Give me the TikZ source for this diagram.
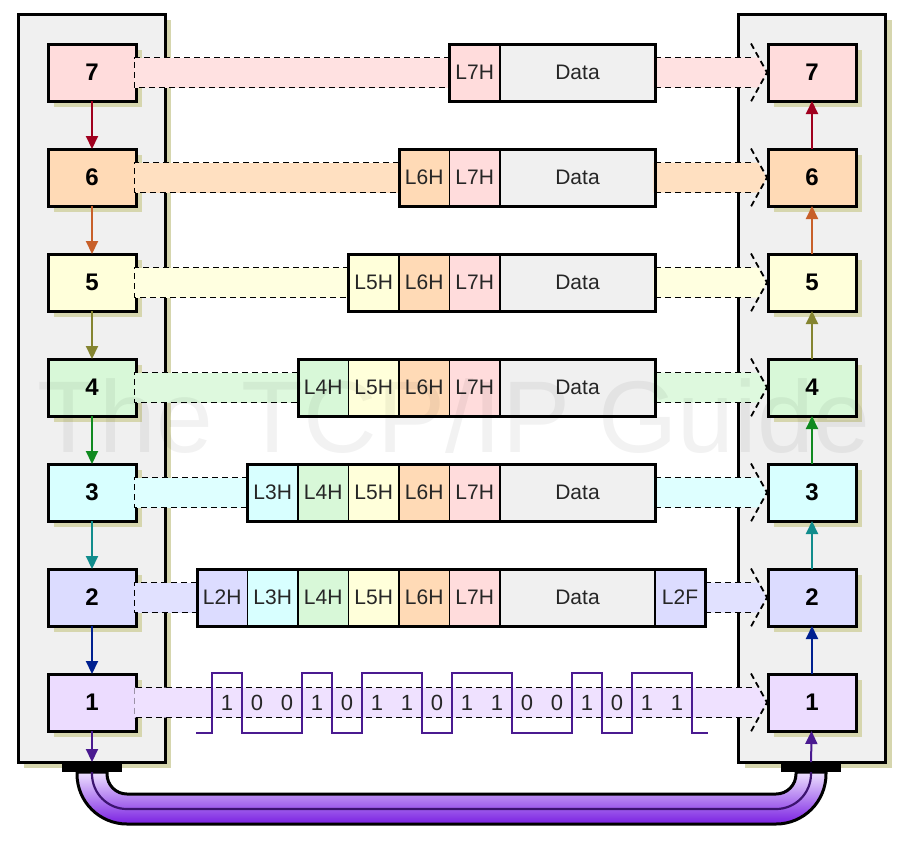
\documentclass[tikz,border=0pt]{standalone}
\usepackage{fontspec}
\setmainfont{Liberation Sans}
\usetikzlibrary{arrows.meta}
\usetikzlibrary{shadows}
\definecolor{lay7}{HTML}{FFDCDC}
\definecolor{lay6}{HTML}{FFDAB6}
\definecolor{lay5}{HTML}{FFFFDA}
\definecolor{lay4}{HTML}{D8F8D8}
\definecolor{lay3}{HTML}{D8FFFF}
\definecolor{lay2}{HTML}{DCDCFF}
\definecolor{lay1}{HTML}{ECDCFF}
\definecolor{arr7}{HTML}{A0001E}
\definecolor{arr6}{HTML}{C8602A}
\definecolor{arr5}{HTML}{848430}
\definecolor{arr4}{HTML}{108A20}
\definecolor{arr3}{HTML}{108C8C}
\definecolor{arr2}{HTML}{002090}
\definecolor{arr1}{HTML}{4A1A90}
\definecolor{panelgray}{HTML}{F0F0F0}
\definecolor{datagray}{HTML}{F0F0F0}
\definecolor{khaki}{HTML}{D6D6AE}
\definecolor{wire}{HTML}{3C1470}
\definecolor{cabtop}{HTML}{EEE2FF}
\definecolor{cabmid}{HTML}{A85CF4}
\definecolor{cabbot}{HTML}{7A20E2}

\begin{document}
\begin{tikzpicture}[x=0.5pt,y=-0.5pt,
	panel/.style={draw, line width=1.5pt, fill=panelgray, inner sep=0, outer sep=0, minimum width=73.5pt, minimum height=374pt, general shadow={fill=khaki, shadow xshift=3pt, shadow yshift=-3pt}},
	layer/.style={draw, line width=1.5pt, inner sep=0, outer sep=0, minimum width=44pt, minimum height=28.5pt, font=\bfseries\fontsize{12}{14}\selectfont, general shadow={fill=khaki, shadow xshift=3pt, shadow yshift=-3pt}},
	cell/.style={draw, line width=0.75pt, inner sep=0, outer sep=0, minimum width=25.25pt, minimum height=28.5pt, text=black!85, font=\fontsize{10.5}{12}\selectfont},
	frame/.style={draw, line width=1.5pt},
	bandline/.style={line width=0.9pt, dash pattern=on 3pt off 2pt},
	flow/.style={line width=1pt, -{Triangle[width=6pt,length=6.5pt]}},
	bit/.style={inner sep=0, text=black!85, font=\fontsize{11}{12}\selectfont},
	signal/.style={draw=arr1, line width=1pt},
	bar/.style={fill=black, inner sep=0, outer sep=0, minimum width=30pt, minimum height=5pt},
	watermark/.style={anchor=base, inner sep=0, text=black, text opacity=0.05, font=\fontsize{51}{51}\selectfont}]
	\useasboundingbox (0,0) rectangle (906,843);

	% the two stacks
	\node[panel] (lpanel) at (91.5,388) {};
	\node[panel] (rpanel) at (812,388) {};
	\foreach \n in {7,...,1} {
		\node[layer, fill=lay\n] (L\n) at (92,{72.5+105*(7-\n)}) {\n};
		\node[layer, fill=lay\n] (R\n) at (812,{72.5+105*(7-\n)}) {\n};
	}
	\foreach \n [evaluate=\n as \m using int(\n-1)] in {7,...,2} {
		\draw[flow, arr\n] (L\n) -- (L\m);
		\draw[flow, arr\n] (R\m) -- (R\n);
	}

	% headers and data
	\foreach \n in {7,...,2} {
		\foreach \k in {\n,...,7}
			\node[cell, fill=lay\k] (h\n-\k) at ({500-(8-\k)*50.5+25.25},{72.5+105*(7-\n)}) {L\k H};
		\node[cell, fill=datagray, minimum width=77.5pt] (d\n) at (577.5,{72.5+105*(7-\n)}) {Data};
	}
	\node[cell, fill=lay2] (t2) at (680,597.5) {L2F};

	% bands from the left stack
	\foreach \n in {7,...,2} {
		\fill[lay\n!85!white] ([xshift=-0.8pt,yshift=7.5pt]L\n.east) rectangle ([yshift=-7.5pt]h\n-\n.west);
		\draw[bandline] ([yshift=7.5pt]h\n-\n.west) -- ([xshift=-0.8pt,yshift=7.5pt]L\n.east)
			-- ([xshift=-0.8pt,yshift=-7.5pt]L\n.east) -- ([yshift=-7.5pt]h\n-\n.west);
	}
	\draw[bandline] ([xshift=-0.8pt,yshift=7.5pt]L1.east) -- ([xshift=-0.8pt,yshift=-7.5pt]L1.east);

	% bands into the right stack
	\foreach \n/\s in {7/d7,6/d6,5/d5,4/d4,3/d3,2/t2,1/L1} {
		\fill[lay\n!85!white] ([xshift=-0.8pt,yshift=7.5pt]\s.east) -- ([xshift=-5pt,yshift=7.5pt]R\n.west)
			-- ([xshift=-0.5pt]R\n.west) -- ([xshift=-5pt,yshift=-7.5pt]R\n.west)
			-- ([xshift=-0.8pt,yshift=-7.5pt]\s.east) -- cycle;
		\draw[bandline] ([yshift=7.5pt]\s.east) -- ([xshift=-8pt,yshift=7.5pt]R\n.west);
		\draw[bandline] ([yshift=-7.5pt]\s.east) -- ([xshift=-8pt,yshift=-7.5pt]R\n.west);
		\draw[bandline] ([xshift=-8.5pt,yshift=14.5pt]R\n.west) -- ([xshift=-0.5pt]R\n.west)
			-- ([xshift=-8.5pt,yshift=-14.5pt]R\n.west);
	}

	\foreach \n in {7,...,3}
		\draw[frame] (h\n-\n.north west) rectangle (d\n.south east);
	\draw[frame] (h2-2.north west) rectangle (t2.south east);

	% bits on the wire
	\foreach \b [count=\i from 0] in {1,0,0,1,0,1,1,0,1,1,0,0,1,0,1,1}
		\node[bit] (b\i) at ({227+30*\i},703) {\b};
	\draw[signal] (196,733) -| (212,673) -| (242,733) -| (302,673) -| (332,733) -| (362,673)
		-| (422,733) -| (452,673) -| (512,733) -| (572,673) -| (602,733) -| (632,673)
		-| (692,733) -- (708,733);

	% cable
	\node[bar] (lbar) at (92,767) {};
	\node[bar] (rbar) at (811,767) {};
	\draw[flow, arr1] (L1) -- (lbar);
	\draw[flow, arr1] (rbar) -- (R1);
	\shadedraw[top color=cabtop, middle color=cabmid, bottom color=cabbot, line width=1.5pt]
		(77,772) -- (77,774) arc[start angle=180, end angle=90, radius=50]
		-- (776,824) arc[start angle=90, end angle=0, radius=50]
		-- (826,772) -- (796,772) -- (796,774) arc[start angle=0, end angle=90, radius=20]
		-- (127,794) arc[start angle=90, end angle=180, radius=20]
		-- (107,772) -- cycle;
	\draw[wire, line width=1.1pt] (lbar.south) -- ++(0,2) arc[start angle=180, end angle=90, radius=35]
		-- (776,809) arc[start angle=90, end angle=0, radius=35] -- (rbar.south);

	\node[watermark] (mark) at (454,452) {The TCP/IP Guide};
\end{tikzpicture}
\end{document}
